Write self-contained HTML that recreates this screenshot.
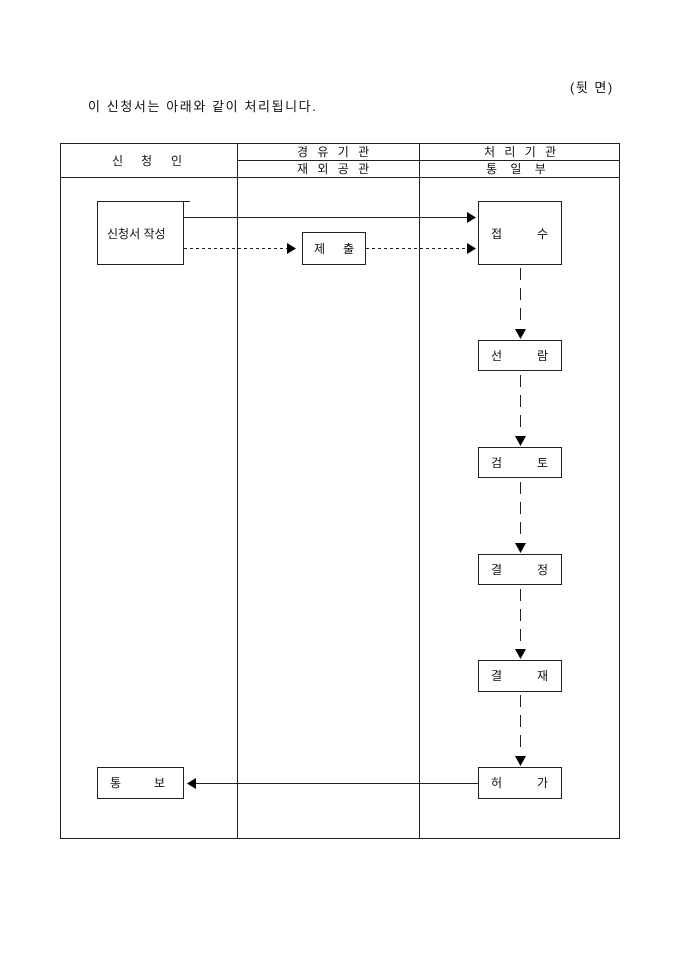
<!DOCTYPE html>
<html><head><meta charset="utf-8"><style>
html,body{margin:0;padding:0;background:#fff;width:680px;height:962px;overflow:hidden}
svg text{font-family:"Liberation Sans","Noto Sans CJK KR","NanumGothic",sans-serif;font-size:12px;fill:#111}
</style></head><body>
<svg width="680" height="962" viewBox="0 0 680 962" xmlns="http://www.w3.org/2000/svg">
<text x="570" y="92" style="font-size:13px;letter-spacing:1.5px">(뒷 면)</text>
<text x="88" y="111" style="font-size:13px;letter-spacing:1.6px">이 신청서는 아래와 같이 처리됩니다.</text>
<g stroke="#222" stroke-width="1" fill="none">
<rect x="60.5" y="143.5" width="559" height="695"/>
<line x1="60" y1="177.5" x2="620" y2="177.5"/>
<line x1="237.5" y1="160.5" x2="620" y2="160.5"/>
<line x1="237.5" y1="143" x2="237.5" y2="839"/>
<line x1="419.5" y1="143" x2="419.5" y2="839"/>
<rect x="97.5" y="201.5" width="86" height="63"/>
<line x1="184" y1="201.5" x2="190" y2="201.5"/>
<rect x="302.5" y="232.5" width="63" height="32"/>
<rect x="478.5" y="201.5" width="83" height="63"/>
<rect x="478.5" y="340.5" width="83" height="30"/>
<rect x="478.5" y="447.5" width="83" height="30"/>
<rect x="478.5" y="554.5" width="83" height="30"/>
<rect x="478.5" y="660.5" width="83" height="31"/>
<rect x="478.5" y="767.5" width="83" height="31"/>
<rect x="97.5" y="767.5" width="86" height="31"/>
<line x1="184" y1="217.5" x2="467" y2="217.5"/>
<line x1="184" y1="248.5" x2="287" y2="248.5" stroke-dasharray="3,3"/>
<line x1="366" y1="248.5" x2="467" y2="248.5" stroke-dasharray="3,3"/>
<line x1="196" y1="783.5" x2="478" y2="783.5"/>
<g stroke-dasharray="12,8">
<line x1="520.5" y1="268" x2="520.5" y2="326"/>
<line x1="520.5" y1="375" x2="520.5" y2="433"/>
<line x1="520.5" y1="482" x2="520.5" y2="540"/>
<line x1="520.5" y1="589" x2="520.5" y2="647"/>
<line x1="520.5" y1="695" x2="520.5" y2="753"/>
</g>
</g>
<g fill="#000">
<polygon points="467,212 476,217.5 467,223"/>
<polygon points="467,243 476,248.5 467,254"/>
<polygon points="287,243 296,248.5 287,254"/>
<polygon points="196,778 187,783.5 196,789"/>
<polygon points="515,329 526,329 520.5,339"/>
<polygon points="515,436 526,436 520.5,446"/>
<polygon points="515,543 526,543 520.5,553"/>
<polygon points="515,649 526,649 520.5,659"/>
<polygon points="515,756 526,756 520.5,766"/>
</g>
<text x="112" y="165">신</text><text x="141" y="165">청</text><text x="171" y="165">인</text>
<text x="297" y="156" style="letter-spacing:3px">경 유 기 관</text>
<text x="297" y="173" style="letter-spacing:3px">재 외 공 관</text>
<text x="484" y="156" style="letter-spacing:3px">처 리 기 관</text>
<text x="486" y="173">통&#160;&#160;&#160; 일&#160;&#160;&#160; 부</text>
<text x="107" y="238">신청서 작성</text>
<text x="314" y="253">제</text><text x="343" y="253">출</text>
<text x="491" y="238">접</text><text x="537" y="238">수</text>
<text x="491" y="360">선</text><text x="537" y="360">람</text>
<text x="491" y="467">검</text><text x="537" y="467">토</text>
<text x="491" y="574">결</text><text x="537" y="574">정</text>
<text x="491" y="680">결</text><text x="537" y="680">재</text>
<text x="491" y="787">허</text><text x="537" y="787">가</text>
<text x="110" y="787">통</text><text x="154" y="787">보</text>
</svg>
</body></html>
